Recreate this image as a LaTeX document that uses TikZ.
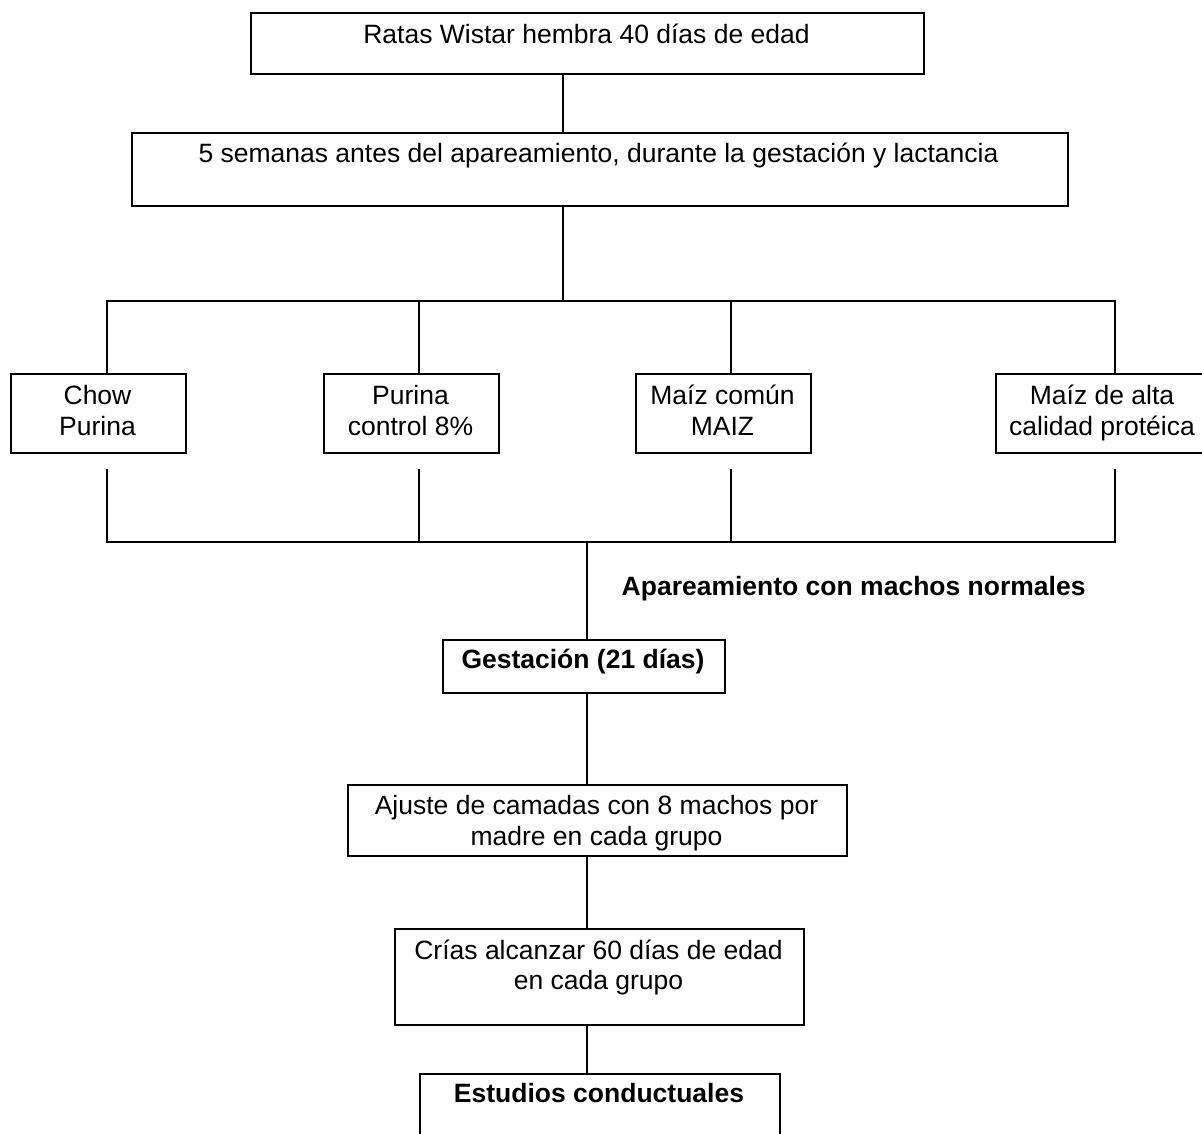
\documentclass[tikz,border=0pt]{standalone}
\usepackage{fontspec}
\setmainfont{Liberation Sans}
\begin{document}
\begin{tikzpicture}[x=1pt,y=-1pt,
  box/.style={draw, line width=2pt, rectangle, inner sep=0pt, anchor=north west},
  conn/.style={draw, line width=1.7pt},
  txt/.style={anchor=base, inner sep=0pt, font=\fontsize{26.5}{30}\selectfont},
  btxt/.style={txt, font=\fontsize{26.5}{30}\selectfont\bfseries}]
\useasboundingbox (0,0) rectangle (1202,1133);
% boxes
\node[box, minimum width=673pt, minimum height=61pt] (b1) at (250,12) {};
\node[box, minimum width=936pt, minimum height=73pt] (b2) at (131,132) {};
\node[box, minimum width=175pt, minimum height=79pt] (c1) at (10,373) {};
\node[box, minimum width=175pt, minimum height=79pt] (c2) at (323,373) {};
\node[box, minimum width=175pt, minimum height=79pt] (c3) at (635,373) {};
\node[box, minimum width=215pt, minimum height=79pt] (c4) at (995,373) {};
\node[box, minimum width=282pt, minimum height=53pt] (g) at (442,639) {};
\node[box, minimum width=499pt, minimum height=71pt] (a) at (347,784) {};
\node[box, minimum width=409pt, minimum height=96pt] (cr) at (394,928) {};
\node[box, minimum width=360pt, minimum height=90pt] (e) at (419,1073) {};
% texts
\node[txt] (t1) at (586.5,43) {Ratas Wistar hembra 40 días de edad};
\node[txt] (t2) at (598.5,162.7) {5 semanas antes del apareamiento, durante la gestación y lactancia};
\node[txt] (t3a) at (97.5,404) {Chow};
\node[txt] (t3b) at (97.5,435) {Purina};
\node[txt] (t4a) at (410.5,404) {Purina};
\node[txt] (t4b) at (410.5,435) {control 8\%};
\node[txt] (t5a) at (722.5,404) {Maíz común};
\node[txt] (t5b) at (722.5,435) {MAIZ};
\node[txt] (t6a) at (1102,404) {Maíz de alta};
\node[txt] (t6b) at (1102,435) {calidad protéica};
\node[btxt, anchor=base west] (tap) at (621.5,595) {Apareamiento con machos normales};
\node[btxt] (tg) at (583,668) {Gestación (21 días)};
\node[txt] (taa) at (596.5,814) {Ajuste de camadas con 8 machos por};
\node[txt] (tab) at (596.5,845) {madre en cada grupo};
\node[txt] (tca) at (598.5,959) {Crías alcanzar 60 días de edad};
\node[txt] (tcb) at (598.5,989) {en cada grupo};
\node[btxt] (te) at (599,1102) {Estudios conductuales};
% connector coordinates
\coordinate (j1) at (563,301);
\coordinate (busL) at (107,301);
\coordinate (busR) at (1115,301);
\coordinate (m2) at (419,301);
\coordinate (m3) at (731,301);
\coordinate (s1) at (107,469);
\coordinate (s2) at (419,469);
\coordinate (s3) at (731,469);
\coordinate (s4) at (1115,469);
\coordinate (lowL) at (107,542);
\coordinate (lowR) at (1115,542);
\coordinate (l2) at (419,542);
\coordinate (l3) at (731,542);
\coordinate (j2) at (587,542);
% connectors
\draw[conn] (b1.south -| j1) -- (b2.north -| j1);
\draw[conn] (b2.south -| j1) -- (j1);
\draw[conn] (c1.north -| busL) -- (busL) -- (busR) -- (c4.north -| busR);
\draw[conn] (m2) -- (c2.north -| m2);
\draw[conn] (m3) -- (c3.north -| m3);
\draw[conn] (s1) -- (lowL) -- (lowR) -- (s4);
\draw[conn] (s2) -- (l2);
\draw[conn] (s3) -- (l3);
\draw[conn] (j2) -- (g.north -| j2);
\draw[conn] (g.south -| j2) -- (a.north -| j2);
\draw[conn] (a.south -| j2) -- (cr.north -| j2);
\draw[conn] (cr.south -| j2) -- (e.north -| j2);
\end{tikzpicture}
\end{document}
